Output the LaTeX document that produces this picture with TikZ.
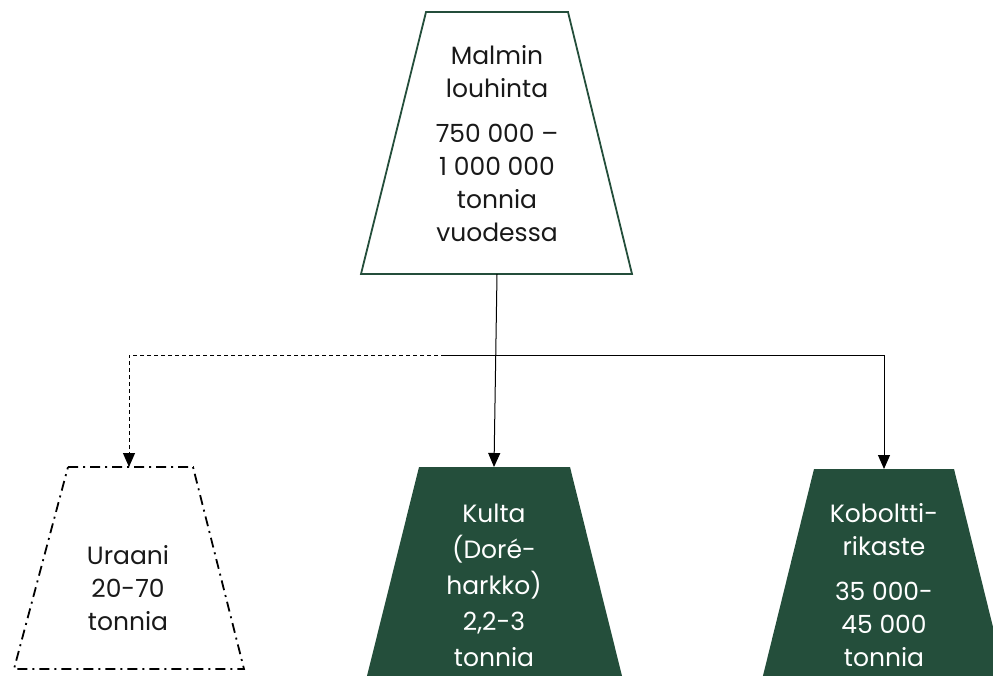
\documentclass[tikz,border=0pt]{standalone}
\usepackage{fontspec}
\setmainfont{Poppins}
\usetikzlibrary{arrows.meta}
\definecolor{metsa}{HTML}{244E3B}

\begin{document}
\begin{tikzpicture}[x=1pt,y=-1pt,
	reuna/.style={draw=metsa,line width=1.8pt,line join=miter},
	katko/.style={draw=black,line width=1.8pt,dash pattern=on 10pt off 5pt on 2pt off 5pt},
	teksti/.style={align=center,font=\fontsize{25}{33}\selectfont,text=black!90},
	valko/.style={teksti,text=white},
	nuoli/.style={-{Triangle[width=12pt,length=14pt]},line width=1pt}]
	\useasboundingbox (0,0) rectangle (993,675);
	\clip (0,0) rectangle (993,675);
	% laatikot
	\draw[reuna] (426,12) -- (568,12) -- (632,274) -- (361,274) -- cycle;
	\draw[katko] (68,467) -- (193,467) -- (244,669) -- (14,669) -- cycle;
	\fill[metsa] (419,467) -- (570,467) -- (628,700) -- (361,700) -- cycle;
	\fill[metsa] (814,469) -- (954,469) -- (1011,700) -- (757,700) -- cycle;
	% tekstit
	\node[teksti] (malmi) at (497,144)
		{Malmin\\louhinta\\[12pt]750 000 –\\1 000 000\\tonnia\\vuodessa};
	\node[teksti] (uraani) at (128,588) {Uraani\\20-70\\tonnia};
	\node[valko,font=\fontsize{25}{36}\selectfont] (kulta) at (494,585)
		{Kulta\\(Doré-\\harkko)\\2,2-3\\tonnia};
	\node[valko] (koboltti) at (884,585)
		{Koboltti-\\rikaste\\[12pt]35 000-\\45 000\\tonnia};
	% liitokset
	\coordinate (malmi-ala) at (497,274);
	\coordinate (haara) at (445,355);
	\coordinate (uraani-yla) at (129,467);
	\coordinate (kulta-yla) at (494,467);
	\coordinate (koboltti-yla) at (884,469);
	\draw[nuoli] (malmi-ala) -- (kulta-yla);
	\draw[nuoli] (haara) -| (koboltti-yla);
	\draw[nuoli,dash pattern=on 4pt off 3pt] (haara) -| (uraani-yla);
\end{tikzpicture}
\end{document}
